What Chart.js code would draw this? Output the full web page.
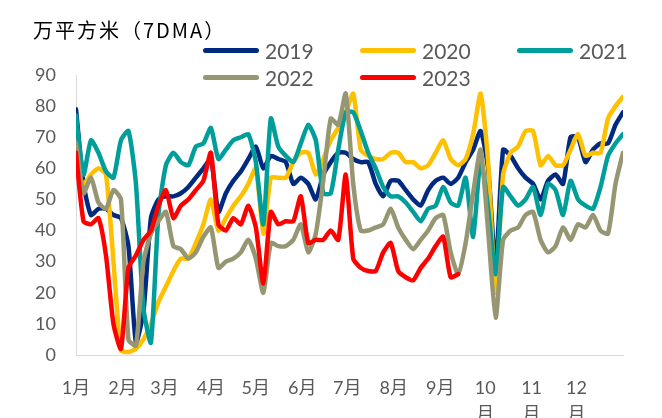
<!DOCTYPE html>
<html>
<head>
<meta charset="utf-8">
<script src="https://cdn.jsdelivr.net/npm/chart.js@4.4.0/dist/chart.umd.min.js"></script>
<style>
  body { margin: 0; background: #fff; }
  #wrap { position: relative; width: 662px; height: 418px; }
  #title { position: absolute; left: 33px; top: 15px; font: 20px "Noto Sans CJK SC", sans-serif; letter-spacing: 2px; color: #000; }
  .leg { position: absolute; display: flex; align-items: center; font: 21px Lato, sans-serif; color: #595959; height: 24px; }
  .leg i { display: inline-block; width: 56px; height: 5px; border-radius: 3px; margin-right: 6px; }
</style>
</head>
<body>
<div id="wrap">
  <canvas id="chart" width="662" height="418"></canvas>
  <div id="title">万平方米（7DMA）</div>
  <div id="legend"></div>
</div>
<script>
// x: day of year, sampled every 5 days
const days = [];
for (let d = 0; d <= 365; d += 5) days.push(d);

const monthStarts = [0, 31, 59, 90, 120, 151, 181, 212, 243, 273, 304, 334];
const monthLabels = ['1月', '2月', '3月', '4月', '5月', '6月', '7月', '8月', '9月', ['10', '月'], ['11', '月'], ['12', '月']];
const yTicks = [0, 10, 20, 30, 40, 50, 60, 70, 80, 90];

const seriesNames = ['2019', '2020', '2021', '2022', '2023'];
const seriesColors = ['#002a80', '#ffc000', '#009e9a', '#969673', '#ff0000'];

const v2019 = [79, 55, 45, 47, 47, 45, 44, 35, 4, 14, 44, 50, 51, 51, 52, 54, 57, 60, 63, 46,
  52, 56, 59, 63, 67, 60, 64, 63, 62, 55, 57, 55, 50, 58, 62, 65, 65, 63, 62, 62,
  55, 51, 56, 56, 53, 50, 48, 53, 56, 57, 55, 57, 62, 66, 72, 60, 28, 66, 64, 60,
  57, 55, 50, 56, 58, 55, 70, 70, 62, 66, 68, 68, 74, 78];
const v2020 = [60, 55, 58, 60, 58, 30, 1.5, 1, 2, 5, 10, 17, 22, 27, 31, 31, 36, 42, 50, 40,
  44, 48, 51, 55, 60, 39, 57, 57, 57, 62, 65, 65, 58, 63, 69, 73, 78, 84, 66, 64,
  63, 63, 65, 65, 62, 62, 60, 61, 65, 69, 63, 61, 63, 71, 84, 62, 20, 58, 65, 67,
  72, 72, 61, 64, 61, 61, 66, 71, 64, 65, 65, 76, 80, 83];
const v2021 = [77, 58, 69, 65, 59, 57, 69, 72, 55, 15, 4, 45, 61, 65, 62, 61, 67, 68, 73, 63,
  66, 69, 70, 71, 62, 42, 76, 67, 64, 62, 68, 74, 69, 52, 52, 66, 78, 78, 72, 65,
  60, 54, 51, 51, 49, 46, 43, 47, 48, 54, 49, 48, 57, 38, 63, 47, 26, 54, 51, 48,
  50, 54, 45, 55, 53, 45, 56, 50, 48, 47, 54, 64, 68, 71];
const v2022 = [68, 52, 57, 49, 47, 53, 50, 5, 3, 30, 39, 43, 46, 35, 34, 31, 33, 38, 41, 28,
  30, 31, 33, 37, 31, 20, 36, 35, 35, 37, 42, 33, 39, 56, 76, 74, 84, 55, 40, 40,
  41, 42, 47, 41, 37, 34, 37, 40, 44, 45, 33, 26, 36, 52, 66, 40, 12, 37, 40, 41,
  45, 46, 37, 33, 35, 41, 37, 42, 41, 45, 40, 39, 55, 65];
const v2023 = [65, 43, 42, 44, 32, 10, 2, 28, 32, 37, 40, 48, 53, 44, 48, 50, 53, 56, 65, 42,
  40, 44, 42, 48, 41, 23, 46, 42, 43, 43, 51, 36, 37, 37, 40, 37, 58, 31, 28, 27,
  27, 33, 36, 27, 25, 24, 28, 31, 35, 38, 25, 26];

const seriesValues = [v2019, v2020, v2021, v2022, v2023];

const textColor = '#595959';
const axisColor = '#d9d9d9';

const datasets = seriesValues.map((vals, i) => ({
  label: seriesNames[i],
  data: vals.map((v, j) => ({ x: days[j], y: v })),
  borderColor: seriesColors[i],
  backgroundColor: seriesColors[i],
  borderWidth: 4.5,
  borderCapStyle: 'round',
  borderJoinStyle: 'round',
  pointRadius: 0,
  tension: 0.2,
  fill: false,
  order: seriesNames.length - i   // later years drawn on top
}));

// html legend, 3 per row
const legendX = [203, 360, 517];
const legendY = [38, 65];
const legend = document.getElementById('legend');
seriesNames.forEach((name, i) => {
  const el = document.createElement('div');
  el.className = 'leg';
  el.style.left = legendX[i % 3] + 'px';
  el.style.top = legendY[Math.floor(i / 3)] + 'px';
  el.innerHTML = '<i style="background:' + seriesColors[i] + '"></i>' + name;
  legend.appendChild(el);
});

const ctx = document.getElementById('chart').getContext('2d');
new Chart(ctx, {
  type: 'line',
  data: { datasets: datasets },
  options: {
    responsive: false,
    animation: false,
    layout: { padding: { left: 0, right: 39, top: 75, bottom: 0 } },
    plugins: {
      legend: { display: false },
      tooltip: { enabled: false }
    },
    scales: {
      x: {
        type: 'linear',
        min: 0,
        max: 365,
        afterBuildTicks: (scale) => {
          scale.ticks = monthStarts.map(v => ({ value: v }));
        },
        afterFit: (scale) => { scale.height = 63; },
        ticks: {
          autoSkip: false,
          maxRotation: 0,
          padding: 21,
          color: textColor,
          font: { family: 'Lato, "Noto Sans CJK SC"', size: 18, lineHeight: 1.4 },
          callback: (value, index) => monthLabels[index]
        },
        grid: { display: false, drawTicks: false },
        border: { display: true, color: axisColor, width: 1 }
      },
      y: {
        min: 0,
        max: 90,
        afterBuildTicks: (scale) => {
          scale.ticks = yTicks.map(v => ({ value: v }));
        },
        afterFit: (scale) => { scale.width = 76; },
        ticks: {
          padding: 20,
          color: textColor,
          font: { family: 'Lato', size: 18 }
        },
        grid: { display: false, drawTicks: false },
        border: { display: true, color: axisColor, width: 1 }
      }
    }
  }
});
</script>
</body>
</html>
